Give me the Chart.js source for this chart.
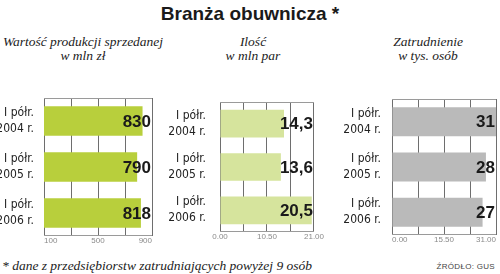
<!DOCTYPE html>
<html>
<head>
<meta charset="utf-8">
<script src="https://cdn.jsdelivr.net/npm/chart.js@4"></script>
<style>
  body { margin: 0; background: #fff; width: 500px; height: 274px; overflow: hidden; position: relative; font-family: "Liberation Sans", sans-serif; }
  canvas { position: absolute; }
  .title { position: absolute; left: 0; width: 500px; top: 3px; text-align: center; font: bold 19px "Liberation Sans", sans-serif; color: #1a1a1a; }
  .sub { position: absolute; top: 35px; width: 200px; text-align: center; font: italic 13.5px/14px "Liberation Serif", serif; color: #222; }
  .note { position: absolute; left: 2px; top: 258px; font: italic 13.5px "Liberation Serif", serif; color: #222; }
  .src { position: absolute; right: 5px; top: 262px; font: 8px "Liberation Sans", sans-serif; color: #444; letter-spacing: 0.3px; }
</style>
</head>
<body>
<div class="title">Branża obuwnicza *</div>
<div class="sub" style="left:-17px">Wartość produkcji sprzedanej<br>w mln zł</div>
<div class="sub" style="left:153px">Ilość<br>w mln par</div>
<div class="sub" style="left:328px">Zatrudnienie<br>w tys. osób</div>
<canvas id="c1" width="156" height="174" style="left:0px;top:80px"></canvas>
<canvas id="c2" width="159" height="174" style="left:165px;top:80px"></canvas>
<canvas id="c3" width="170" height="174" style="left:330px;top:80px"></canvas>
<div class="note">* dane z przedsiębiorstw zatrudniających powyżej 9 osób</div>
<div class="src">ŹRÓDŁO: GUS</div>
<script>
// data
const categories = [["I półr.", "2004 r."], ["I półr.", "2005 r."], ["I półr.", "2006 r."]];
const valueSold = [830, 790, 818];
const pairs = [14.3, 13.6, 20.5];
const employment = [31, 28, 27];
const ticksSold = [100, 300, 500, 700, 900];
const ticksPairs = [0, 5.25, 10.5, 15.75, 21];
const ticksEmployment = [0, 7.75, 15.5, 23.25, 31];

// top & bottom frame lines
const framePlugin = {
  id: "frame",
  beforeDatasetsDraw(chart) {
    const a = chart.chartArea;
    const ctx = chart.ctx;
    ctx.save();
    ctx.strokeStyle = "#9a9a9a";
    ctx.lineWidth = 1;
    ctx.beginPath();
    ctx.moveTo(a.left, a.top + 0.5);
    ctx.lineTo(a.right, a.top + 0.5);
    ctx.moveTo(a.left, a.bottom - 0.5);
    ctx.lineTo(a.right, a.bottom - 0.5);
    ctx.stroke();
    ctx.restore();
  }
};

// values written at the right edge of the plot
const valuePlugin = {
  id: "values",
  afterDatasetsDraw(chart) {
    const ctx = chart.ctx;
    const meta = chart.getDatasetMeta(0);
    ctx.save();
    ctx.font = "bold 17px 'Liberation Sans', sans-serif";
    ctx.fillStyle = "#1a1a1a";
    ctx.textAlign = "right";
    ctx.textBaseline = "middle";
    meta.data.forEach((bar, i) => {
      const v = chart.data.datasets[0].data[i];
      ctx.fillText(String(v).replace(".", ","), chart.chartArea.right - 1, bar.y + 1);
    });
    ctx.restore();
  }
};

function makePanel(id, values, tickValues, color, yWidth, yPad, decimals, align) {
  const ctx = document.getElementById(id).getContext("2d");
  return new Chart(ctx, {
    type: "bar",
    data: {
      labels: categories,
      datasets: [{
        data: values,
        backgroundColor: color,
        borderWidth: 0,
        categoryPercentage: 1,
        barPercentage: 0.64
      }]
    },
    options: {
      indexAxis: "y",
      responsive: false,
      animation: false,
      layout: { padding: { top: 2, right: 4, bottom: 0, left: 0 } },
      plugins: { legend: { display: false }, tooltip: { enabled: false } },
      scales: {
        x: {
          min: tickValues[0],
          max: tickValues[tickValues.length - 1],
          afterBuildTicks: (scale) => {
            scale.ticks = tickValues.map((v) => ({ value: v }));
          },
          afterFit: (scale) => { scale.height = 14; },
          border: { display: false },
          grid: { color: "#6e6e6e", lineWidth: 1, drawTicks: false },
          ticks: {
            padding: 0,
            align: align,
            maxRotation: 0,
            autoSkip: false,
            color: "#8a8a8a",
            font: { size: 8, family: "'Liberation Sans', sans-serif" },
            callback: (value, index) => index % 2 === 0 ? Number(value).toFixed(decimals) : ""
          }
        },
        y: {
          afterFit: (scale) => { scale.width = yWidth; },
          border: { display: false },
          grid: { display: false },
          ticks: {
            padding: yPad,
            color: "#222",
            font: { size: 12, lineHeight: "16px", family: "'DejaVu Sans Condensed', 'DejaVu Sans', sans-serif" }
          }
        }
      }
    },
    plugins: [framePlugin, valuePlugin]
  });
}

makePanel("c1", valueSold, ticksSold, "#b8cf3c", 44, 2, 0, "inner");
makePanel("c2", pairs, ticksPairs, "#d6e49d", 55, 6, 2, "center");
makePanel("c3", employment, ticksEmployment, "#bababa", 62, 3, 2, "inner");
</script>
</body>
</html>
